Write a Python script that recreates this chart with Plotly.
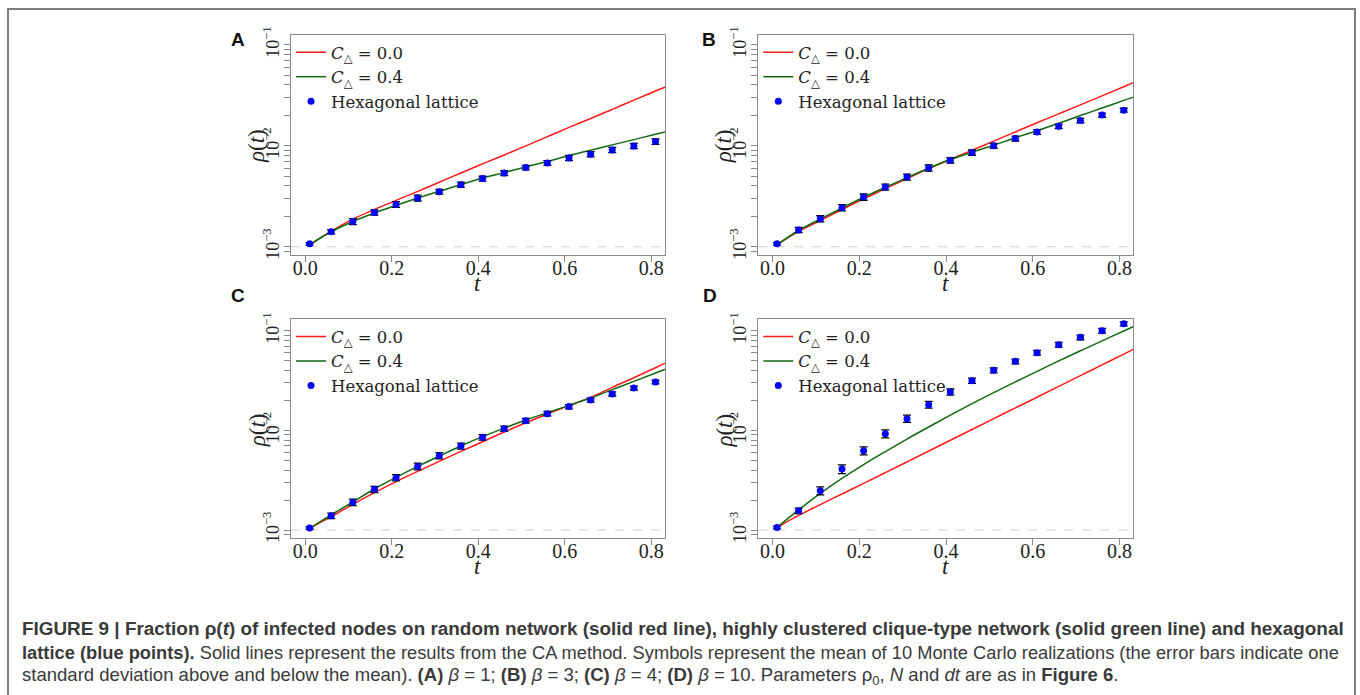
import plotly.graph_objects as go

# ---------------- data ----------------
T_POINTS = [0.01, 0.06, 0.11, 0.16, 0.21, 0.26, 0.31, 0.36, 0.41, 0.46,
            0.51, 0.56, 0.61, 0.66, 0.71, 0.76, 0.81]
T_LINE = [0.01, 0.06, 0.11, 0.16, 0.21, 0.26, 0.31, 0.36, 0.41, 0.46,
          0.51, 0.56, 0.61, 0.66, 0.71, 0.76, 0.81, 0.86]

A_HEX = [1.07e-3, 1.41e-3, 1.78e-3, 2.19e-3, 2.63e-3, 3.04e-3, 3.51e-3, 4.12e-3, 4.73e-3,
         5.38e-3, 6.08e-3, 6.76e-3, 7.58e-3, 8.24e-3, 9.10e-3, 9.97e-3, 1.10e-2]
A_SD = [3.2e-5, 6.5e-5, 1.2e-4, 1.3e-4, 1.7e-4, 2.0e-4, 1.9e-4, 2.5e-4, 2.6e-4,
        3.0e-4, 3.0e-4, 3.7e-4, 4.5e-4, 4.9e-4, 5.5e-4, 6.0e-4, 6.6e-4]
A_RED = [1.047e-3, 1.43e-3, 1.88e-3, 2.34e-3, 2.88e-3, 3.54e-3, 4.35e-3, 5.38e-3, 6.61e-3,
         8.11e-3, 9.97e-3, 1.23e-2, 1.52e-2, 1.86e-2, 2.29e-2, 2.83e-2, 3.48e-2, 4.27e-2]
A_GREEN = [1.047e-3, 1.41e-3, 1.78e-3, 2.16e-3, 2.57e-3, 3.04e-3, 3.54e-3, 4.13e-3, 4.80e-3,
           5.42e-3, 6.17e-3, 6.97e-3, 8.00e-3, 9.04e-3, 1.02e-2, 1.15e-2, 1.30e-2, 1.46e-2]

B_HEX = [1.07e-3, 1.47e-3, 1.90e-3, 2.44e-3, 3.11e-3, 3.91e-3, 4.91e-3, 6.03e-3, 7.18e-3,
         8.57e-3, 1.00e-2, 1.18e-2, 1.37e-2, 1.56e-2, 1.78e-2, 2.01e-2, 2.25e-2]
B_SD = [3.2e-5, 8.8e-5, 1.3e-4, 1.7e-4, 2.2e-4, 2.7e-4, 3.4e-4, 4.2e-4, 4.3e-4,
        5.1e-4, 5.5e-4, 6.5e-4, 7.5e-4, 8.0e-4, 9.0e-4, 9.5e-4, 1.0e-3]
B_RED = [1.047e-3, 1.42e-3, 1.82e-3, 2.34e-3, 2.99e-3, 3.76e-3, 4.73e-3, 5.94e-3, 7.35e-3,
         9.03e-3, 1.11e-2, 1.37e-2, 1.69e-2, 2.07e-2, 2.54e-2, 3.12e-2, 3.84e-2, 4.75e-2]
B_GREEN = [1.047e-3, 1.45e-3, 1.88e-3, 2.42e-3, 3.09e-3, 3.88e-3, 4.84e-3, 5.99e-3, 7.30e-3,
           8.63e-3, 1.01e-2, 1.20e-2, 1.41e-2, 1.67e-2, 1.99e-2, 2.36e-2, 2.81e-2, 3.32e-2]

C_HEX = [1.05e-3, 1.39e-3, 1.90e-3, 2.56e-3, 3.35e-3, 4.35e-3, 5.57e-3, 6.97e-3, 8.51e-3,
         1.04e-2, 1.25e-2, 1.47e-2, 1.73e-2, 2.01e-2, 2.32e-2, 2.66e-2, 3.06e-2]
C_SD = [3.2e-5, 9.0e-5, 1.4e-4, 1.8e-4, 2.4e-4, 3.3e-4, 4.0e-4, 4.8e-4, 5.5e-4,
        6.2e-4, 7.0e-4, 7.5e-4, 8.5e-4, 9.5e-4, 1.1e-3, 1.2e-3, 1.3e-3]
C_RED = [1.04e-3, 1.36e-3, 1.81e-3, 2.37e-3, 3.06e-3, 3.88e-3, 4.89e-3, 6.15e-3, 7.69e-3,
         9.62e-3, 1.19e-2, 1.46e-2, 1.77e-2, 2.14e-2, 2.70e-2, 3.37e-2, 4.25e-2, 5.36e-2]
C_GREEN = [1.04e-3, 1.42e-3, 1.91e-3, 2.58e-3, 3.37e-3, 4.35e-3, 5.52e-3, 6.97e-3, 8.64e-3,
           1.05e-2, 1.27e-2, 1.50e-2, 1.78e-2, 2.11e-2, 2.56e-2, 3.10e-2, 3.76e-2, 4.56e-2]

D_HEX = [1.06e-3, 1.56e-3, 2.48e-3, 4.09e-3, 6.25e-3, 9.27e-3, 1.31e-2, 1.81e-2, 2.43e-2,
         3.15e-2, 4.00e-2, 4.92e-2, 6.01e-2, 7.24e-2, 8.57e-2, 1.00e-1, 1.17e-1]
D_SD = [3.3e-5, 9.7e-5, 2.3e-4, 4.1e-4, 5.8e-4, 8.5e-4, 1.1e-3, 1.4e-3, 1.7e-3,
        1.9e-3, 2.2e-3, 2.7e-3, 3.2e-3, 3.9e-3, 4.6e-3, 5.4e-3, 5.4e-3]
D_RED = [1.06e-3, 1.40e-3, 1.80e-3, 2.30e-3, 2.94e-3, 3.76e-3, 4.82e-3, 6.19e-3, 7.96e-3,
         1.02e-2, 1.31e-2, 1.68e-2, 2.15e-2, 2.76e-2, 3.54e-2, 4.54e-2, 5.82e-2, 7.46e-2]
D_GREEN = [1.06e-3, 1.59e-3, 2.33e-3, 3.30e-3, 4.54e-3, 6.12e-3, 8.18e-3, 1.08e-2, 1.42e-2,
           1.85e-2, 2.39e-2, 3.06e-2, 3.91e-2, 4.97e-2, 6.28e-2, 7.91e-2, 9.93e-2, 1.245e-1]

RHO0 = 1e-3
PANEL_LABELS = ["A", "B", "C", "D"]
X_TICKS = [0.0, 0.2, 0.4, 0.6, 0.8]
X_TICKTEXT = ["0.0", "0.2", "0.4", "0.6", "0.8"]
Y_MAJOR = [1e-3, 1e-2, 1e-1]
Y_MAJOR_TEXT = ["10<sup>−3</sup>", "10<sup>−2</sup>", "10<sup>−1</sup>"]
LEGEND_NAMES = ["<i>C</i><sub>△</sub> = 0.0", "<i>C</i><sub>△</sub> = 0.4", "Hexagonal lattice"]

CAPTION_1 = ("<b>FIGURE 9 | Fraction ρ(<i>t</i>) of infected nodes on random network (solid red line), "
             "highly clustered clique-type network (solid green line) and hexagonal</b>")
CAPTION_2 = ("<b>lattice (blue points).</b> Solid lines represent the results from the CA method. "
             "Symbols represent the mean of 10 Monte Carlo realizations (the error bars indicate one")
CAPTION_3 = ("standard deviation above and below the mean). <b>(A)</b> <i>β</i> = 1; <b>(B)</b> <i>β</i> = 3; "
             "<b>(C)</b> <i>β</i> = 4; <b>(D)</b> <i>β</i> = 10. Parameters ρ<sub>0</sub>, <i>N</i> and "
             "<i>dt</i> are as in <b>Figure 6</b>.")

# ---------------- layout geometry (pixels) ----------------
W, H = 1360, 695
X_RANGE = [-0.033, 0.832]
PANELS = {
    "A": dict(px=(291, 665), py=(35, 254.5), yr=[-3.076, -0.904], letter=(238, 40),
              red=A_RED, green=A_GREEN, hexv=A_HEX, sd=A_SD),
    "B": dict(px=(758.3, 1133.3), py=(35, 254.5), yr=[-3.076, -0.904], letter=(709, 40),
              red=B_RED, green=B_GREEN, hexv=B_HEX, sd=B_SD),
    "C": dict(px=(291, 665), py=(319.3, 537.7), yr=[-3.077, -0.886], letter=(238, 295),
              red=C_RED, green=C_GREEN, hexv=C_HEX, sd=C_SD),
    "D": dict(px=(758.3, 1133.3), py=(319.3, 537.7), yr=[-3.077, -0.886], letter=(710, 295),
              red=D_RED, green=D_GREEN, hexv=D_HEX, sd=D_SD),
}

SERIF = "Liberation Serif, Times New Roman, serif"
LEG_SERIF = "DejaVu Serif, Liberation Serif, serif"
SANS = "Liberation Sans, Arial, sans-serif"
AXIS_GREY = "#8a8a8a"
TXT = "#222222"

# minor (unlabelled) log ticks 2..9 x 10^e
y_minor = [k * 10.0 ** e for e in (-4, -3, -2, -1) for k in range(2, 10)]

fig = go.Figure()
layout = dict(
    template="none",
    width=W, height=H, margin=dict(l=0, r=0, t=0, b=0, autoexpand=False),
    paper_bgcolor="white", plot_bgcolor="white",
    showlegend=True,
)
annotations = []
shapes = []

for i, lab in enumerate(PANEL_LABELS):
    p = PANELS[lab]
    n = "" if i == 0 else str(i + 1)
    xa, ya = "x" + n, "y" + n
    leg = "legend" + n

    fig.add_trace(go.Scatter(x=T_LINE, y=p["red"], mode="lines", name=LEGEND_NAMES[0],
                             line=dict(color="#ff1a1a", width=1.5, shape="spline"),
                             xaxis=xa, yaxis=ya, legend=leg))
    fig.add_trace(go.Scatter(x=T_LINE, y=p["green"], mode="lines", name=LEGEND_NAMES[1],
                             line=dict(color="#0f6a0f", width=1.5, shape="spline"),
                             xaxis=xa, yaxis=ya, legend=leg))
    fig.add_trace(go.Scatter(x=T_POINTS, y=p["hexv"], mode="markers", name=LEGEND_NAMES[2],
                             marker=dict(color="#0000ff", size=7),
                             error_y=dict(type="data", array=p["sd"], visible=True,
                                          color="black", thickness=1.3, width=4),
                             xaxis=xa, yaxis=ya, legend=leg))

    x0, x1 = p["px"][0] / W, p["px"][1] / W
    y0, y1 = 1 - p["py"][1] / H, 1 - p["py"][0] / H
    layout["xaxis" + n] = dict(
        domain=[x0, x1], range=X_RANGE, anchor=ya, automargin=False,
        tickmode="array", tickvals=X_TICKS, ticktext=X_TICKTEXT, ticks="outside", ticklen=6,
        tickcolor=AXIS_GREY, tickwidth=1, showline=True, mirror=True,
        linecolor=AXIS_GREY, linewidth=1.3, showgrid=False, zeroline=False,
        ticklabelstandoff=-11,
        tickfont=dict(family=SERIF, size=20, color=TXT),
    )
    layout["yaxis" + n] = dict(
        domain=[y0, y1], type="log", range=p["yr"], anchor=xa, automargin=False,
        tickmode="array", tickvals=Y_MAJOR, ticktext=Y_MAJOR_TEXT, tickangle=-90,
        ticks="outside", ticklen=6, tickcolor=AXIS_GREY, tickwidth=1,
        minor=dict(tickmode="array", tickvals=y_minor, ticks="outside", ticklen=6,
                   tickcolor=AXIS_GREY, tickwidth=1, showgrid=False),
        showline=True, mirror=True, linecolor=AXIS_GREY, linewidth=1.3,
        showgrid=False, zeroline=False, ticklabelstandoff=-2,
        tickfont=dict(family=SERIF, size=18, color=TXT),
    )
    layout[leg] = dict(
        x=p["px"][0] / W, y=1 - (p["py"][0] + 0) / H, xanchor="left", yanchor="top",
        bgcolor="rgba(0,0,0,0)", borderwidth=0,
        font=dict(family=LEG_SERIF, size=16.5, color=TXT),
        itemwidth=30, tracegroupgap=0,
    )
    # baseline rho0
    shapes.append(dict(type="line", xref=xa + " domain", x0=0, x1=1, yref=ya,
                       y0=RHO0, y1=RHO0, line=dict(color="#cfcfcf", width=1, dash="dash"),
                       layer="below"))
    # axis titles
    cx = (p["px"][0] + p["px"][1]) / 2
    annotations.append(dict(text="<i>t</i>", x=cx / W, y=1 - (p["py"][1] + 29) / H,
                            xref="paper", yref="paper", xanchor="center", yanchor="middle",
                            showarrow=False, font=dict(family=SERIF, size=23, color=TXT)))
    annotations.append(dict(text="<i>ρ</i>(<i>t</i>)", textangle=-90,
                            x=(p["px"][0] - 34) / W, y=1 - (p["py"][0] + 111) / H,
                            xref="paper", yref="paper", xanchor="center", yanchor="middle",
                            showarrow=False, font=dict(family=SERIF, size=23, color=TXT)))
    # panel letter
    lx, ly = p["letter"]
    annotations.append(dict(text=f"<b>{lab}</b>", x=lx / W, y=1 - ly / H,
                            xref="paper", yref="paper", xanchor="center", yanchor="middle",
                            showarrow=False, font=dict(family=SANS, size=19, color="#111111")))

# caption
for txt, yc, fs in ((CAPTION_1, 628, 18.9), (CAPTION_2, 652, 18.3), (CAPTION_3, 676, 18.55)):
    annotations.append(dict(text=txt, x=20 / W, y=1 - yc / H, xref="paper", yref="paper",
                            xanchor="left", yanchor="middle", align="left", showarrow=False,
                            font=dict(family=SANS, size=fs, color="#3a3a3a")))

# outer frame (open at the bottom, cropped)
shapes.append(dict(type="rect", xref="paper", yref="paper", x0=8 / W, x1=1355 / W,
                   y0=-0.2, y1=1 - 9 / H, line=dict(color="#7f7f7f", width=2)))

layout["annotations"] = annotations
layout["shapes"] = shapes
fig.update_layout(**layout)
fig.write_html(
    "out.html",
    config={"displayModeBar": False},
    post_script="document.body.style.margin='0px';document.documentElement.style.overflow='hidden';",
)
